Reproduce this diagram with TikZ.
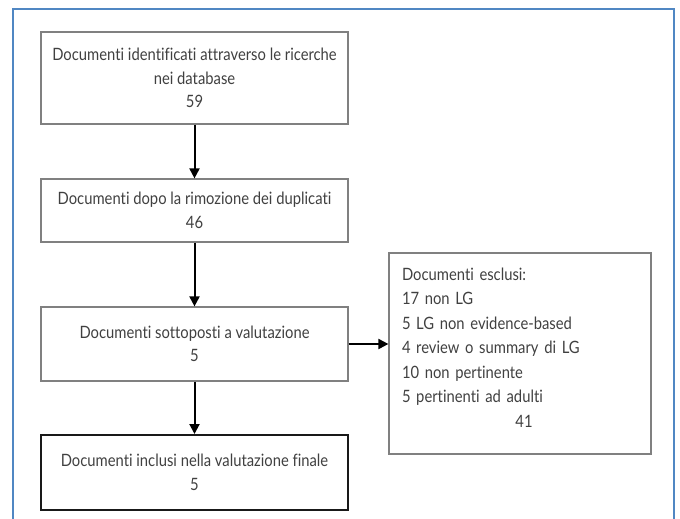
\documentclass[tikz,border=0pt]{standalone}
\usepackage{fontspec}
\setmainfont{Lato}[FakeStretch=0.87, Ligatures={NoCommon}]
\usetikzlibrary{arrows.meta}

\begin{document}
\begin{tikzpicture}[x=1pt,y=-1pt,
  box/.style={draw=black!50, line width=1.2pt, minimum width=307pt,
    align=center, text=black!75, inner sep=0pt,
    font=\fontsize{17}{23.5}\selectfont},
  finalbox/.style={box, draw=black!90, line width=2pt},
  sidebox/.style={box, minimum width=262pt, minimum height=201pt,
    align=left, text width=236pt, font=\fontsize{17}{24.5}\selectfont},
  flow/.style={line width=2pt, -{Triangle[length=10pt,width=10pt]}}]

  % Define the page and the blue frame
  \useasboundingbox (0,0) rectangle (680,519);
  \draw[color={rgb,255:red,80;green,135;blue,195}, line width=1.4pt]
    (13,519) |- (674,9) -- (674,519);

  % Define the boxes of the flow
  \node[box, minimum height=92pt] (ident) at (194.5,78)
    {Documenti identificati attraverso le ricerche\\nei database\\59};
  \node[box, minimum height=63pt] (dopo) at (194.5,210.5)
    {Documenti dopo la rimozione dei duplicati\\46};
  \node[box, minimum height=74pt] (valut) at (194.5,344)
    {Documenti sottoposti a valutazione\\5};
  \node[finalbox, minimum height=75pt] (finale) at (194.5,472.5)
    {Documenti inclusi nella valutazione finale\\5};
  \node[sidebox] (esclusi) at (520,353.5)
    {Documenti esclusi:\\17 non LG\\5 LG non evidence-based\\4 review o summary di LG\\10 non pertinente\\5 pertinenti ad adulti\\\hspace*{24pt}\makebox[196pt]{41}\\[-12pt]\mbox{}};

  % Draw the arrows between the boxes
  \draw[flow] (ident) -- (dopo);
  \draw[flow] (dopo) -- (valut);
  \draw[flow] (valut) -- (finale);
  \draw[flow] (valut.east) -- (valut.east -| esclusi.west);

\end{tikzpicture}
\end{document}
